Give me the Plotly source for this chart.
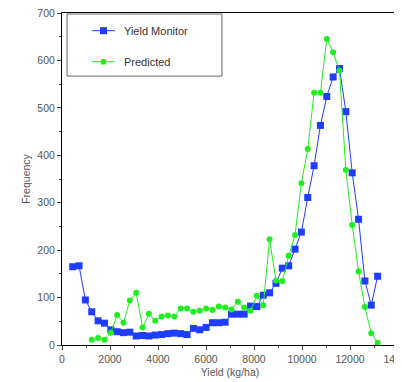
import plotly.graph_objects as go

# Bin centres (kg/ha)
bin_centers = [445, 710, 974, 1239, 1504, 1769, 2033, 2298, 2563, 2827,
               3092, 3357, 3621, 3886, 4151, 4416, 4680, 4945, 5210, 5474,
               5739, 6004, 6268, 6533, 6798, 7063, 7327, 7592, 7857, 8121,
               8386, 8651, 8915, 9180, 9445, 9710, 9974, 10239, 10504, 10768,
               11033, 11298, 11562, 11827, 12092, 12357, 12621, 12886, 13151]

yield_monitor = [165, 167, 95, 70, 51, 46, 32, 28, 26, 27,
                 19, 20, 19, 21, 22, 24, 25, 24, 22, 35,
                 32, 37, 47, 47, 48, 65, 65, 65, 82, 81,
                 105, 110, 130, 162, 167, 202, 238, 311, 378, 463,
                 524, 565, 583, 492, 363, 265, 135, 84, 145]

predicted_x = [1239, 1504, 1769, 2033, 2298, 2563, 2827,
               3092, 3357, 3621, 3886, 4151, 4416, 4680, 4945, 5210, 5474,
               5739, 6004, 6268, 6533, 6798, 7063, 7327, 7592, 7857, 8121,
               8386, 8651, 8915, 9180, 9445, 9710, 9974, 10239, 10504, 10768,
               11033, 11298, 11562, 11827, 12092, 12357, 12621, 12886, 13151]

predicted = [11, 15, 11, 26, 63, 47, 94,
             110, 37, 66, 51, 60, 62, 60, 77, 77, 70,
             72, 77, 74, 81, 79, 75, 91, 79, 72, 104,
             84, 223, 136, 135, 188, 232, 341, 413, 532, 532,
             645, 617, 578, 369, 253, 155, 80, 25, 5]

x_ticks = [0, 2000, 4000, 6000, 8000, 10000, 12000, 14000]
y_ticks = [0, 100, 200, 300, 400, 500, 600, 700]

series_names = ["Yield Monitor", "Predicted"]

BLUE = "#1f3dff"
GREEN = "#1fee1f"
FONT = "Liberation Sans, Arial, sans-serif"
TXT = "#555555"

fig = go.Figure()
fig.add_trace(go.Scatter(x=bin_centers, y=yield_monitor, mode="lines+markers",
                         name=series_names[0],
                         line=dict(color=BLUE, width=1),
                         marker=dict(symbol="square", size=7, color=BLUE),
                         showlegend=False))
fig.add_trace(go.Scatter(x=predicted_x, y=predicted, mode="lines+markers",
                         name=series_names[1],
                         line=dict(color=GREEN, width=1),
                         marker=dict(symbol="circle", size=6, color=GREEN),
                         showlegend=False))

# manual legend (box, samples, labels)
lx0, lx1, ly0, ly1 = 0.015, 0.476, 0.810, 0.997
fig.add_shape(type="rect", xref="paper", yref="paper", x0=lx0, x1=lx1, y0=ly0, y1=ly1,
              line=dict(color="#666666", width=1), fillcolor="white", layer="below")
rows = [(0.9467, BLUE, "square", 7), (0.8533, GREEN, "circle", 6)]
for (yy, col, sym, sz), nm in zip(rows, series_names):
    fig.add_trace(go.Scatter(x=[0.0893, 0.1577], y=[yy, yy], mode="lines",
                             line=dict(color=col, width=1), xaxis="x2", yaxis="y2",
                             showlegend=False, hoverinfo="skip"))
    fig.add_trace(go.Scatter(x=[0.1235], y=[yy], mode="markers",
                             marker=dict(color=col, symbol=sym, size=sz), xaxis="x2", yaxis="y2",
                             showlegend=False, hoverinfo="skip"))
    fig.add_annotation(x=0.178, y=yy, xref="paper", yref="paper", text=nm,
                       showarrow=False, xanchor="left", yanchor="middle",
                       font=dict(family=FONT, size=11, color="#333333"))

axis_common = dict(showline=True, linecolor="black", linewidth=1, mirror=True,
                   ticks="outside", ticklen=4, tickcolor="#444444", tickwidth=1,
                   showgrid=False, zeroline=False, ticklabeloverflow="allow",
                   automargin=False,
                   tickfont=dict(family=FONT, size=10.5, color=TXT))

# page body has an 8px margin, so the figure is sized to fit inside the window
fig.update_layout(
    width=394, height=374,
    margin=dict(l=54, r=4, t=5, b=37),
    paper_bgcolor="white", plot_bgcolor="white",
    xaxis=dict(range=[0, 14000], tickvals=x_ticks, ticktext=[str(v) for v in x_ticks],
               minor=dict(ticks="outside", ticklen=2, dtick=1000, tickcolor="#444444"),
               title=dict(text="Yield (kg/ha)", standoff=5,
                          font=dict(family=FONT, size=10.5, color=TXT)),
               **axis_common),
    yaxis=dict(range=[0, 700], tickvals=y_ticks, ticktext=[str(v) for v in y_ticks],
               minor=dict(ticks="outside", ticklen=2, dtick=50, tickcolor="#444444"),
               title=dict(text="Frequency", standoff=4,
                          font=dict(family=FONT, size=10.5, color=TXT)),
               **axis_common),
    xaxis2=dict(range=[0, 1], overlaying="x", visible=False, fixedrange=True),
    yaxis2=dict(range=[0, 1], overlaying="y", visible=False, fixedrange=True),
)

fig.write_html("out.html")
